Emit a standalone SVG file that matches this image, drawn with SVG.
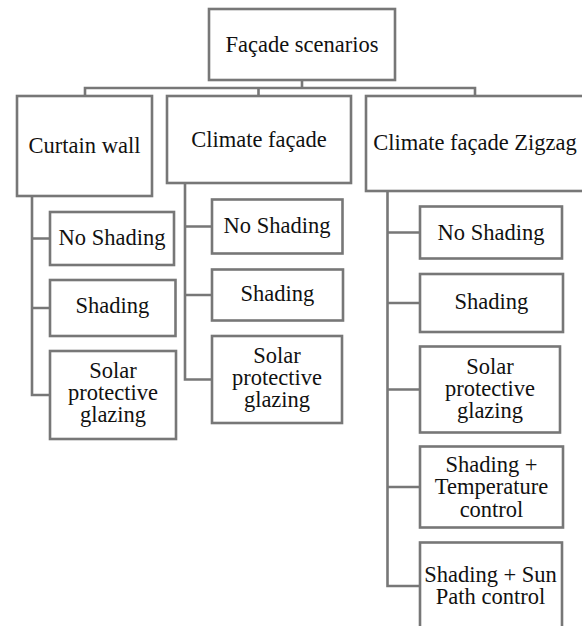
<svg xmlns="http://www.w3.org/2000/svg" width="582" height="626" viewBox="0 0 582 626">
<style>
.box{fill:#fff;stroke:#777;stroke-width:2.6}
.ln{fill:none;stroke:#777;stroke-width:2.6}
text{font-family:'Liberation Serif','Times New Roman',Tinos,'DejaVu Serif',serif;font-size:22.5px;fill:#111;text-anchor:middle}
</style>
<rect width="582" height="626" fill="#fff"/>
<g id="connectors">
<path class="ln" d="M302 80V88M85 96V88H475V96M258.5 88V96"/>
<path class="ln" d="M32 196V395H50M32 238.5H50M32 308H50"/>
<path class="ln" d="M185 183V379.5H212M185 226.5H212M185 295H212"/>
<path class="ln" d="M387.5 191V586H420M387.5 232.5H420M387.5 303H420M387.5 389.5H420M387.5 487H420"/>
</g>
<g id="root"><rect class="box" x="209" y="9" width="186" height="71"/><text x="302" y="52">Façade scenarios</text></g>
<g id="curtain"><rect class="box" x="17" y="96" width="135" height="100"/><text x="84.5" y="153">Curtain wall</text></g>
<g id="climate"><rect class="box" x="167" y="96" width="184" height="87"/><text x="259" y="147">Climate façade</text></g>
<g id="zigzag"><rect class="box" x="366" y="96" width="220" height="95"/><text x="475" y="150">Climate façade Zigzag</text></g>

<g id="cw-noshading"><rect class="box" x="50" y="212" width="124" height="53"/><text x="112" y="245">No Shading</text></g>
<g id="cw-shading"><rect class="box" x="50" y="280" width="125.5" height="56"/><text x="112.5" y="313">Shading</text></g>
<g id="cw-solar"><rect class="box" x="50" y="351" width="126" height="88"/><text x="113" y="377.5">Solar</text><text x="113" y="399.5">protective</text><text x="113" y="421.5">glazing</text></g>

<g id="cf-noshading"><rect class="box" x="212" y="199.5" width="130.5" height="54"/><text x="277" y="232.5">No Shading</text></g>
<g id="cf-shading"><rect class="box" x="212" y="269.5" width="131" height="51"/><text x="277.5" y="301">Shading</text></g>
<g id="cf-solar"><rect class="box" x="212" y="336" width="130" height="87"/><text x="277" y="362.5">Solar</text><text x="277" y="385">protective</text><text x="277" y="407">glazing</text></g>

<g id="zz-noshading"><rect class="box" x="420" y="206.5" width="142" height="52"/><text x="491" y="240">No Shading</text></g>
<g id="zz-shading"><rect class="box" x="420" y="274" width="143" height="58"/><text x="491.5" y="308.5">Shading</text></g>
<g id="zz-solar"><rect class="box" x="420" y="346.5" width="140" height="86"/><text x="490" y="373.5">Solar</text><text x="490" y="395.5">protective</text><text x="490" y="418">glazing</text></g>
<g id="zz-temp"><rect class="box" x="420" y="446.5" width="143" height="81"/><text x="491.5" y="471.5">Shading +</text><text x="491.5" y="494">Temperature</text><text x="491.5" y="516.5">control</text></g>
<g id="zz-sun"><rect class="box" x="420" y="542.5" width="142" height="88"/><text x="490.5" y="581.5">Shading + Sun</text><text x="490.5" y="603.5">Path control</text></g>
</svg>
